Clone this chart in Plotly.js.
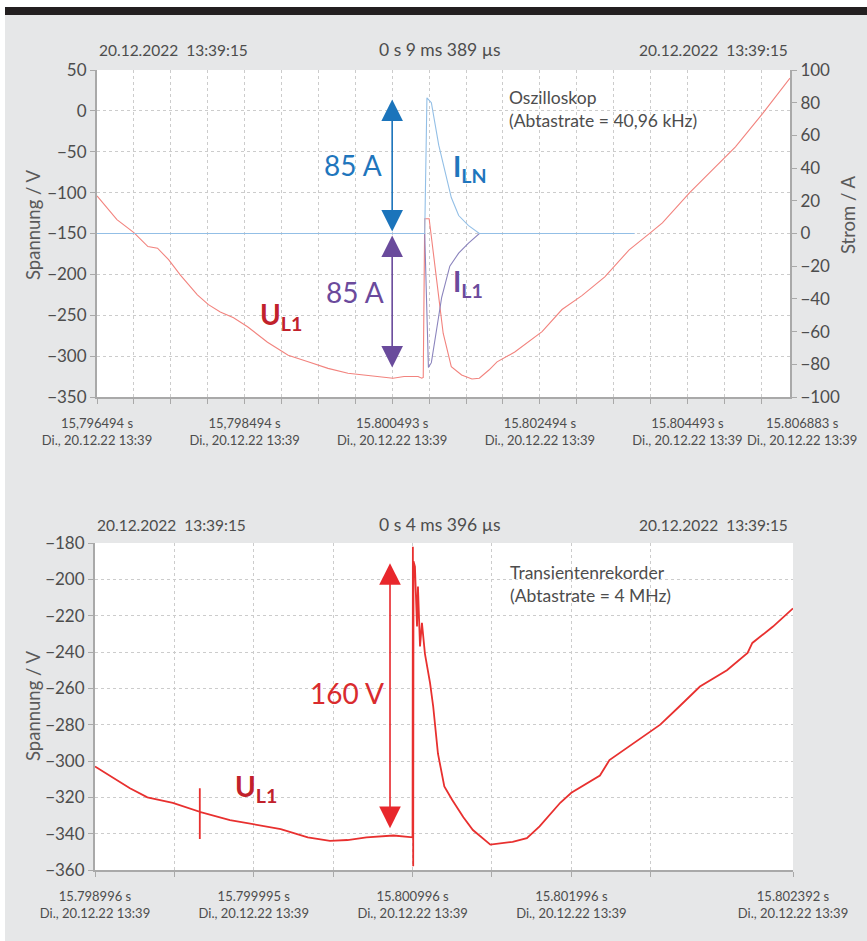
<!DOCTYPE html>
<html>
<head>
<meta charset="utf-8">
<script src="https://cdn.plot.ly/plotly-3.0.1.min.js"></script>
<style>html,body{margin:0;padding:0;background:#e6e7e8;}#chart{width:867px;height:941px;}</style>
</head>
<body>
<div id="chart"></div>
<script>
// ---------- DATA (time in ms from window start) ----------
// Top panel: oscilloscope, U_L1 in V
const topTime = [0, 0.27, 0.50, 0.69, 0.82, 0.97, 1.13, 1.36, 1.51, 1.67, 1.85, 2.04, 2.31, 2.59, 2.86, 3.13, 3.40, 3.71, 4.01, 4.16, 4.35, 4.40, 4.42, 4.44, 4.50, 4.53, 4.63, 4.69, 4.80, 4.94, 5.08, 5.18, 5.31, 5.42, 5.66, 6.03, 6.30, 6.57, 6.88, 7.21, 7.50, 7.66, 8.03, 8.38, 8.65, 9.02, 9.389];
const topU = [-104, -133, -149, -166, -168, -182, -201, -225, -237, -246, -253, -264, -283, -299, -307, -315, -321, -324, -327, -325, -325, -327, -326, -132, -132, -154, -228, -272, -313, -323, -328, -327, -317, -307, -295, -270, -243, -226, -203, -170, -149, -137, -100, -69, -44, -3, 40];
// Top panel: currents in A
const ilnTime = [0, 4.40, 4.44, 4.47, 4.53, 4.63, 4.71, 4.80, 4.90, 5.03, 5.18, 7.28];
const ilnA = [0, 0, 0, 83, 80, 54, 39, 22, 11, 5, 0, 0];
const il1Time = [0, 4.40, 4.44, 4.49, 4.53, 4.60, 4.67, 4.78, 4.90, 5.03, 5.18, 7.28];
const il1A = [0, 0, 0, -82, -79, -59, -39, -20, -12, -6, 0, 0];
// Bottom panel: transient recorder, U_L1 in V
const botTime = [0, 0.11, 0.22, 0.33, 0.49, 0.66, 0.66, 0.66, 0.66, 0.85, 1.00, 1.17, 1.34, 1.48, 1.59, 1.71, 1.88, 2.000, 2.002, 2.004, 2.006, 2.015, 2.028, 2.034, 2.047, 2.059, 2.078, 2.11, 2.13, 2.16, 2.20, 2.25, 2.32, 2.38, 2.49, 2.63, 2.72, 2.80, 2.93, 3.00, 3.18, 3.24, 3.33, 3.45, 3.56, 3.68, 3.81, 3.98, 4.11, 4.14, 4.27, 4.396];
const botU = [-303, -309, -315, -320, -323, -328, -315, -343, -328, -332.5, -335, -337.5, -342, -344, -343.5, -342, -341, -342, -182, -358, -190, -193, -226, -204, -237, -224, -241, -257, -270, -296, -314, -321.5, -331, -338, -346, -344.5, -342.5, -336, -323, -317.5, -308, -299.5, -294, -287, -280, -270, -259, -250, -240.5, -235, -226, -216];

// Arrow spans
const arrowLN = [0, 82];
const arrowL1 = [0, -82];
const arrowBot = [-190, -337];

// Ticks
const topTickVals = [0, 2, 4, 6, 8];
const topTickLabels = ['15,796494 s', '15,798494 s', '15.800493 s', '15.802494 s', '15.804493 s'];
const topEndLabel = '15.806883 s';
const botTickVals = [0, 0.5, 1, 1.5, 2, 2.5, 3, 3.5, 4.396];
const botTickMajor = {0: '15.798996 s', 2: '15.799995 s', 4: '15.800996 s', 6: '15.801996 s', 8: '15.802392 s'};
const dateLine = 'Di., 20.12.22 13:39';
const headerDate = '20.12.2022\u00a0\u00a013:39:15';
const topSpan = '0 s 9 ms 389 µs';
const botSpan = '0 s 4 ms 396 µs';

// ---------- STYLE ----------
const W = 867, H = 941;
const px = v => v / W, py = v => (H - v) / H;
const gray = '#4d4d4d';
const axisGray = '#a9a9a9';
const gridGray = '#cccccc';
const baseFont = 'Lato, sans-serif';

const traces = [
  {x: topTime, y: topU, xaxis: 'x', yaxis: 'y', mode: 'lines', line: {color: '#f2837e', width: 1.1}, hoverinfo: 'skip'},
  {x: il1Time, y: il1A, xaxis: 'x', yaxis: 'y2', mode: 'lines', line: {color: '#8b84bd', width: 1.1}, hoverinfo: 'skip'},
  {x: ilnTime, y: ilnA, xaxis: 'x', yaxis: 'y2', mode: 'lines', line: {color: '#93bfe6', width: 1.1}, hoverinfo: 'skip'},
  {x: botTime, y: botU, xaxis: 'x2', yaxis: 'y3', mode: 'lines', line: {color: '#e8302f', width: 1.8}, hoverinfo: 'skip'}
];

const xCommon = {
  tickmode: 'array', tickangle: 0, showgrid: true, gridcolor: gridGray, griddash: 'dot', gridwidth: 1,
  showline: true, linecolor: axisGray, linewidth: 2, ticks: 'outside', ticklen: 5, tickcolor: axisGray,
  zeroline: false, tickfont: {family: baseFont, size: 13, color: gray}, ticklabelstandoff: 8, fixedrange: true
};
const yCommon = {
  showgrid: true, gridcolor: gridGray, griddash: 'dot', gridwidth: 1,
  showline: true, linecolor: axisGray, linewidth: 2, ticks: 'outside', ticklen: 5, tickcolor: axisGray,
  zeroline: false, tickfont: {family: baseFont, size: 17, color: gray}, fixedrange: true
};

function arrowAnn(x, xref, yref, span, color) {
  return {x: x, y: span[1], ax: x, ay: span[0], xref: xref, yref: yref, axref: xref, ayref: yref,
    text: '\u00a0', font: {size: 1}, showarrow: true, arrowhead: 2, startarrowhead: 2, arrowside: 'end+start',
    arrowsize: 2.7, startarrowsize: 2.7, arrowwidth: 1.6, arrowcolor: color, standoff: 0, startstandoff: 0};
}
function paperText(text, x, y, xanchor, size, extra) {
  return Object.assign({text: text, x: px(x), y: py(y), xref: 'paper', yref: 'paper', xanchor: xanchor, yanchor: 'middle',
    showarrow: false, font: {family: baseFont, size: size, color: gray}}, extra || {});
}
const titleFont = {family: baseFont, size: 18.5, color: '#5a5a5a'};

const annotations = [
  // headers
  paperText(headerDate, 97, 50, 'left', 15.5),
  paperText(topSpan, 440, 50, 'center', 17.5),
  paperText(headerDate, 790, 50, 'right', 15.5),
  paperText(headerDate, 95, 525, 'left', 15.5),
  paperText(botSpan, 440, 525, 'center', 17.5),
  paperText(headerDate, 790, 525, 'right', 15.5),
  // last x label of the top panel (offset to the right as in the original)
  paperText(topEndLabel + '<br>' + dateLine, 802, 431, 'center', 13),
  // axis titles
  paperText('Spannung / V', 33, 225, 'center', 18.5, {textangle: -90, font: titleFont}),
  paperText('Strom / A', 848, 215, 'center', 18.5, {textangle: -90, font: titleFont}),
  paperText('Spannung / V', 33, 706, 'center', 18.5, {textangle: -90, font: titleFont}),
  // top panel labels
  {text: 'Oszilloskop<br>(Abtastrate = 40,96 kHz)', x: 5.55, y: 2, xref: 'x', yref: 'y', xanchor: 'left', yanchor: 'middle', align: 'left', showarrow: false, font: {family: baseFont, size: 17.5, color: gray}},
  {text: '85 A', x: 3.47, y: 42, xref: 'x', yref: 'y2', xanchor: 'center', yanchor: 'middle', showarrow: false, font: {family: baseFont, size: 28, color: '#1f76bd'}},
  {text: '85 A', x: 3.50, y: -36, xref: 'x', yref: 'y2', xanchor: 'center', yanchor: 'middle', showarrow: false, font: {family: baseFont, size: 28, color: '#6b4a9c'}},
  {text: '<b>I<sub>LN</sub></b>', x: 4.80, y: 40, xref: 'x', yref: 'y2', xanchor: 'left', yanchor: 'middle', showarrow: false, font: {family: baseFont, size: 28, color: '#1f76bd'}},
  {text: '<b>I<sub>L1</sub></b>', x: 4.80, y: -30, xref: 'x', yref: 'y2', xanchor: 'left', yanchor: 'middle', showarrow: false, font: {family: baseFont, size: 28, color: '#6b4a9c'}},
  {text: '<b>U<sub>L1</sub></b>', x: 2.18, y: -251, xref: 'x', yref: 'y', xanchor: 'left', yanchor: 'middle', showarrow: false, font: {family: baseFont, size: 28, color: '#c1212b'}},
  arrowAnn(3.999, 'x', 'y2', arrowLN, '#1b74bb'),
  arrowAnn(3.999, 'x', 'y2', arrowL1, '#6a4b9c'),
  // bottom panel labels
  {text: 'Transientenrekorder<br>(Abtastrate = 4 MHz)', x: 2.60, y: -202.5, xref: 'x2', yref: 'y3', xanchor: 'left', yanchor: 'middle', align: 'left', showarrow: false, font: {family: baseFont, size: 17.5, color: gray}},
  {text: '160 V', x: 1.59, y: -262.6, xref: 'x2', yref: 'y3', xanchor: 'center', yanchor: 'middle', showarrow: false, font: {family: baseFont, size: 28, color: '#d92b2e'}},
  {text: '<b>U<sub>L1</sub></b>', x: 0.87, y: -315, xref: 'x2', yref: 'y3', xanchor: 'left', yanchor: 'middle', showarrow: false, font: {family: baseFont, size: 28, color: '#c1212b'}},
  arrowAnn(1.858, 'x2', 'y3', arrowBot, '#e8272c')
];

const layout = {
  width: W, height: H,
  margin: {l: 0, r: 0, t: 0, b: 0},
  paper_bgcolor: '#e6e7e8',
  plot_bgcolor: '#ffffff',
  showlegend: false,
  font: {family: baseFont, color: gray},
  xaxis: Object.assign({}, xCommon, {domain: [px(97), px(790)], anchor: 'y', range: [0, 9.389],
    tickvals: topTickVals, ticktext: topTickLabels.map(s => s + '<br>' + dateLine),
    minor: {tick0: 0, dtick: 0.5, showgrid: true, gridcolor: gridGray, griddash: 'dot', gridwidth: 1, ticks: 'outside', ticklen: 5, tickcolor: axisGray}}),
  yaxis: Object.assign({}, yCommon, {domain: [py(397), py(70)], anchor: 'x', range: [-350, 50], tickmode: 'linear', tick0: -350, dtick: 50}),
  yaxis2: Object.assign({}, yCommon, {overlaying: 'y', side: 'right', anchor: 'x', range: [-100, 100], tickmode: 'linear', tick0: -100, dtick: 20, showgrid: false}),
  xaxis2: Object.assign({}, xCommon, {domain: [px(95), px(793)], anchor: 'y3', range: [0, 4.396],
    tickvals: botTickVals, ticktext: botTickVals.map((v, i) => (i in botTickMajor) ? botTickMajor[i] + '<br>' + dateLine : '\u00a0')}),
  yaxis3: Object.assign({}, yCommon, {domain: [py(870), py(543)], anchor: 'x2', range: [-360, -180], tickmode: 'linear', tick0: -360, dtick: 20}),
  shapes: [
    {type: 'rect', xref: 'paper', yref: 'paper', x0: 0, x1: 1, y0: py(7), y1: 1, fillcolor: '#ffffff', line: {width: 0}, layer: 'below'},
    {type: 'rect', xref: 'paper', yref: 'paper', x0: 0, x1: px(5), y0: 0, y1: 1, fillcolor: '#ffffff', line: {width: 0}, layer: 'below'},
    {type: 'rect', xref: 'paper', yref: 'paper', x0: px(5), x1: 1, y0: py(15), y1: py(7), fillcolor: '#231f20', line: {width: 0}, layer: 'above'}
  ],
  annotations: annotations
};

Plotly.newPlot('chart', traces, layout, {staticPlot: true, displayModeBar: false});
</script>
</body>
</html>
